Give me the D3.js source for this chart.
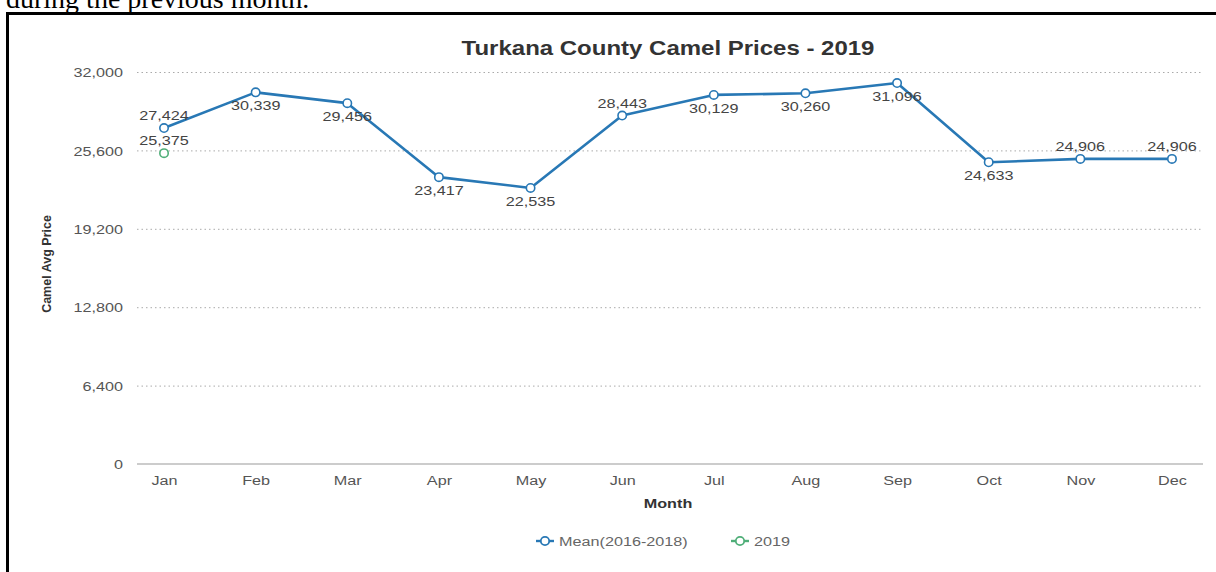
<!DOCTYPE html>
<html>
<head>
<meta charset="utf-8">
<script src="https://cdn.jsdelivr.net/npm/d3@7"></script>
<style>
  html, body { margin: 0; padding: 0; background: #fff; }
  svg { display: block; }
  text { font-family: "Liberation Sans", Arial, sans-serif; }
</style>
</head>
<body>
<svg id="chart" width="1216" height="572"></svg>
<script>
// Monthly camel prices, Turkana County
const months = ["Jan","Feb","Mar","Apr","May","Jun","Jul","Aug","Sep","Oct","Nov","Dec"];
const meanPrices = [27424, 30339, 29456, 23417, 22535, 28443, 30129, 30260, 31096, 24633, 24906, 24906];
const prices2019 = [25375];
const yTicks = [0, 6400, 12800, 19200, 25600, 32000];
const seriesNames = ["Mean(2016-2018)", "2019"];

// label placement for the mean series: true = above the point
const meanLabelAbove = [true, false, false, false, false, true, false, false, false, false, true, true];

const W = 1216, H = 572;
const plot = { left: 137, right: 1203, top: 72, bottom: 464 };
const blue = "#2878b5", green = "#4fae78";
const stretch = "scale(1.2,1)";
const fmt = d3.format(",");

const svg = d3.select("#chart");

// surrounding page text and frame
svg.append("text")
  .attr("x", 6).attr("y", 8)
  .style("font-family", "'Liberation Serif', 'Times New Roman', serif")
  .style("font-size", "28px")
  .attr("fill", "#000")
  .text("during the previous month.");

svg.append("rect")
  .attr("x", 7.5).attr("y", 13.5)
  .attr("width", W + 20).attr("height", H + 20)
  .attr("fill", "#fff")
  .attr("stroke", "#000").attr("stroke-width", 3);

const x = d3.scalePoint().domain(months).range([plot.left, 1199]).padding(0.295);
const y = d3.scaleLinear().domain([0, 32000]).range([plot.bottom, plot.top]);

// gridlines
const grid = svg.append("g").attr("transform", `translate(${plot.left},0)`)
  .call(d3.axisLeft(y).tickValues(yTicks.filter(d => d > 0)).tickSize(-(plot.right - plot.left)).tickFormat(""));
grid.select(".domain").remove();
grid.selectAll("line").attr("stroke", "#aaa").attr("stroke-dasharray", "1.5,3");

// baseline
svg.append("line")
  .attr("x1", plot.left).attr("x2", plot.right)
  .attr("y1", y(0)).attr("y2", y(0))
  .attr("stroke", "#999").attr("stroke-width", 1.2);

// y axis labels
const yAxis = svg.append("g").attr("transform", `translate(${plot.left},0)`)
  .call(d3.axisLeft(y).tickValues(yTicks).tickSize(0).tickFormat(fmt));
yAxis.select(".domain").remove();
yAxis.selectAll("text")
  .attr("x", null).attr("dy", "0.35em")
  .attr("transform", `translate(-14,0) ${stretch}`)
  .attr("text-anchor", "end")
  .attr("fill", "#555").style("font-size", "13.5px");

// x axis labels
const xAxis = svg.append("g").attr("transform", `translate(0,${plot.bottom})`)
  .call(d3.axisBottom(x).tickSize(0));
xAxis.select(".domain").remove();
xAxis.selectAll("text")
  .attr("y", null).attr("dy", null)
  .attr("transform", `translate(0,21) ${stretch}`)
  .attr("fill", "#555").style("font-size", "13.5px");

// title
svg.append("text")
  .attr("transform", `translate(668,55) ${stretch}`)
  .attr("text-anchor", "middle")
  .style("font-size", "20px").style("font-weight", "bold")
  .attr("fill", "#333")
  .text("Turkana County Camel Prices - 2019");

// axis titles
svg.append("text")
  .attr("transform", `translate(51,264) rotate(-90)`)
  .attr("text-anchor", "middle")
  .style("font-size", "12.5px").style("font-weight", "bold")
  .attr("fill", "#333")
  .text("Camel Avg Price");

svg.append("text")
  .attr("transform", `translate(668,508) ${stretch}`)
  .attr("text-anchor", "middle")
  .style("font-size", "13.5px").style("font-weight", "bold")
  .attr("fill", "#333")
  .text("Month");

// mean series line
const line = d3.line().x((d, i) => x(months[i])).y(d => y(d));
svg.append("path")
  .datum(meanPrices)
  .attr("d", line)
  .attr("fill", "none")
  .attr("stroke", blue).attr("stroke-width", 2.6)
  .attr("stroke-linejoin", "round");

svg.append("g").selectAll("circle")
  .data(meanPrices).join("circle")
  .attr("cx", (d, i) => x(months[i])).attr("cy", d => y(d))
  .attr("r", 4.2)
  .attr("fill", "#fff").attr("stroke", blue).attr("stroke-width", 1.6);

// 2019 series
svg.append("g").selectAll("circle")
  .data(prices2019).join("circle")
  .attr("cx", (d, i) => x(months[i])).attr("cy", d => y(d))
  .attr("r", 4.2)
  .attr("fill", "#fff").attr("stroke", green).attr("stroke-width", 1.6);

// value labels
function valueLabel(v, px, above) {
  svg.append("text")
    .attr("transform", `translate(${px},${y(v) + (above ? -8 : 18)}) ${stretch}`)
    .attr("text-anchor", "middle")
    .style("font-size", "13.5px")
    .attr("fill", "#444")
    .text(fmt(v));
}
meanPrices.forEach((v, i) => valueLabel(v, x(months[i]), meanLabelAbove[i]));
prices2019.forEach((v, i) => valueLabel(v, x(months[i]), true));

// legend
const legendItems = [
  { name: seriesNames[0], color: blue, cx: 545 },
  { name: seriesNames[1], color: green, cx: 740 }
];
const lg = svg.append("g");
legendItems.forEach(it => {
  lg.append("line")
    .attr("x1", it.cx - 9).attr("x2", it.cx + 9)
    .attr("y1", 541).attr("y2", 541)
    .attr("stroke", it.color).attr("stroke-width", 2.4);
  lg.append("circle")
    .attr("cx", it.cx).attr("cy", 541).attr("r", 4.2)
    .attr("fill", "#fff").attr("stroke", it.color).attr("stroke-width", 1.8);
  lg.append("text")
    .attr("transform", `translate(${it.cx + 14},546) ${stretch}`)
    .style("font-size", "13.5px")
    .attr("fill", "#666")
    .text(it.name);
});
</script>
</body>
</html>
